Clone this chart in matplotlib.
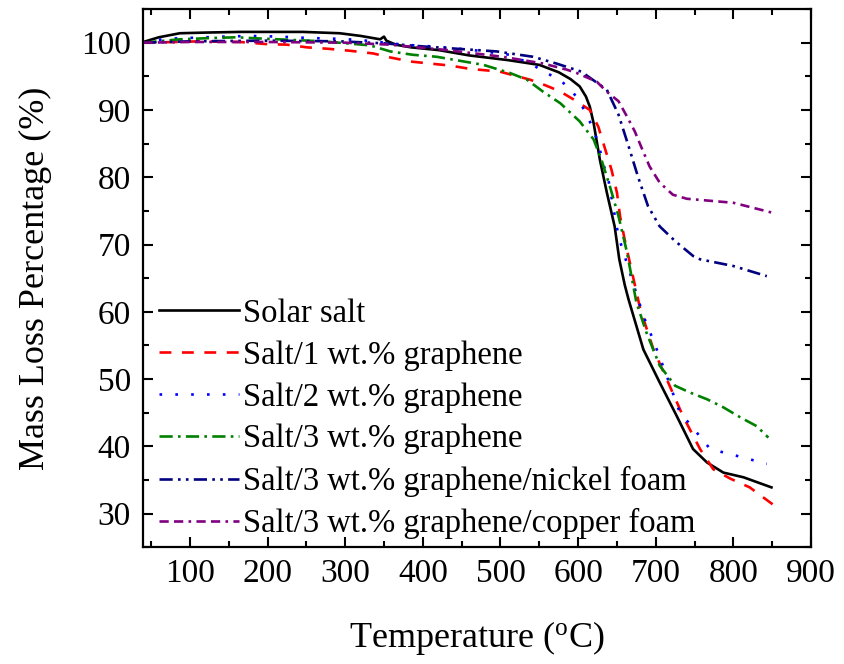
import matplotlib
matplotlib.use("Agg")
import matplotlib.pyplot as plt
from matplotlib.ticker import MultipleLocator

# ---- data ----
solar_x = [40, 60, 87, 120, 165, 246, 293, 320, 345, 350, 353, 365, 385, 420, 460, 510, 550, 575, 590, 602,
           610, 615, 620, 628, 637, 647, 653, 660, 665, 684, 705, 727, 748, 766, 787, 813, 849]
solar_y = [100.1, 100.8, 101.4, 101.5, 101.6, 101.6, 101.4, 101.0, 100.5, 100.9, 100.3, 99.7, 99.3, 98.9, 98.1,
           97.4, 96.7, 95.6, 94.6, 93.5, 92.0, 90.5, 88.0, 82.6, 77.7, 72.7, 67.8, 64.0, 61.8, 54.4, 49.5,
           44.5, 39.6, 37.6, 36.1, 35.4, 33.9]

g1_x = [40, 80, 113, 165, 197, 225, 251, 277, 306, 336, 358, 384, 409, 435, 461, 499, 538, 557, 576, 595,
        615, 626, 635, 643, 650, 654, 660, 680, 697, 714, 735, 757, 774, 796, 821, 855]
g1_y = [100.0, 100.1, 100.2, 100.1, 99.8, 99.7, 99.3, 99.1, 98.8, 98.4, 97.8, 97.2, 96.9, 96.6, 96.1, 95.7,
        94.5, 93.7, 92.8, 91.5, 90.0, 87.5, 84.1, 81.1, 77.7, 74.2, 70.7, 60.4, 54.4, 50.0, 44.5, 39.6,
        36.6, 35.2, 33.9, 31.0]

g2_x = [40, 58, 74, 143, 177, 216, 251, 284, 319, 375, 418, 465, 512, 542, 555, 568, 581, 594, 602, 617,
        626, 632, 639, 645, 652, 684, 697, 714, 731, 744, 770, 804, 843]
g2_y = [100.0, 100.4, 100.6, 100.9, 101.0, 100.9, 100.7, 100.6, 100.4, 99.7, 99.4, 98.9, 98.2, 96.7, 95.7,
        95.0, 94.0, 92.5, 91.3, 87.8, 85.1, 82.1, 79.6, 75.7, 71.2, 59.4, 55.7, 50.5, 45.0, 43.3, 39.6,
        38.6, 37.4]

g3_x = [40, 87, 130, 160, 194, 233, 271, 302, 332, 358, 387, 418, 448, 478, 512, 534, 555, 577, 602, 620,
        630, 641, 652, 663, 675, 688, 705, 725, 744, 766, 787, 809, 830, 845]
g3_y = [100.0, 100.5, 100.7, 100.8, 100.6, 100.4, 100.2, 99.9, 99.6, 98.7, 98.2, 97.9, 97.3, 96.7, 95.5,
        94.5, 92.7, 91.0, 88.3, 85.6, 82.6, 78.6, 74.2, 68.8, 61.4, 56.9, 52.0, 49.0, 48.0, 47.0, 45.8,
        44.3, 43.0, 41.3]

ni_x = [40, 100, 200, 293, 350, 405, 495, 542, 572, 604, 637, 652, 665, 677, 690, 705, 725, 748, 757, 800, 843]
ni_y = [100.0, 100.2, 100.3, 100.2, 99.9, 99.4, 98.7, 97.9, 96.9, 95.7, 93.0, 89.3, 84.6, 80.1, 75.7, 72.7,
        70.5, 68.3, 67.8, 66.8, 65.3]

cu_x = [40, 100, 200, 300, 358, 431, 503, 555, 585, 598, 624, 637, 652, 663, 673, 682, 692, 705, 722, 740,
        800, 851]
cu_y = [100.0, 100.1, 100.1, 100.0, 99.7, 98.9, 97.9, 96.9, 96.0, 95.5, 94.2, 92.7, 91.3, 89.0, 86.8, 84.3,
        81.6, 79.2, 77.4, 76.8, 76.2, 74.7]

labels = ["Solar salt", "Salt/1 wt.% graphene", "Salt/2 wt.% graphene", "Salt/3 wt.% graphene",
          "Salt/3 wt.% graphene/nickel foam", "Salt/3 wt.% graphene/copper foam"]

plt.rcParams['font.family'] = ['Liberation Serif', 'DejaVu Serif']
plt.rcParams['mathtext.fontset'] = 'custom'
plt.rcParams['mathtext.rm'] = 'Liberation Serif'

fig = plt.figure(figsize=(8.44, 6.64), dpi=100)
ax = fig.add_axes([0.1698, 0.1758, 0.7912, 0.8106])

series = [
    (solar_x, solar_y, 'black', '-'),
    (g1_x, g1_y, '#ff0000', (0, (4.5, 4))),
    (g2_x, g2_y, '#0000ff', (0, (1, 5))),
    (g3_x, g3_y, '#008000', (0, (5, 2, 1, 2))),
    (ni_x, ni_y, '#000080', (0, (5, 2, 1, 2, 1, 2))),
    (cu_x, cu_y, '#800080', (0, (3.5, 2, 3.5, 2, 1, 2))),
]
for (x, y, c, ls), lab in zip(series, labels):
    ax.plot(x, y, color=c, linestyle=ls, lw=1.9, label=lab)

ax.set_xlim(40, 900)
ax.set_ylim(25, 105)
ax.xaxis.set_minor_locator(MultipleLocator(50))
ax.yaxis.set_minor_locator(MultipleLocator(5))
ax.set_xticks(range(100, 1000, 100))
ax.set_yticks(range(30, 110, 10))

ax.tick_params(which='both', direction='in', top=True, right=True, width=1.5)
ax.tick_params(which='major', length=7, labelsize=24)
ax.tick_params(axis='x', which='major', pad=8)
ax.tick_params(axis='y', which='major', pad=9)
ax.tick_params(which='minor', length=4)
for s in ax.spines.values():
    s.set_linewidth(1.6)

ax.set_xlabel(r'Temperature ($\mathregular{^o}$C)', fontsize=26, labelpad=22)
ax.set_ylabel('Mass Loss Percentage (%)', fontsize=26, labelpad=21)

leg = ax.legend(loc='lower left', bbox_to_anchor=(0.012, 0.0), frameon=False, fontsize=23.5,
                handlelength=2.45, handletextpad=0.12, labelspacing=0.35, borderaxespad=0.12,
                borderpad=0.12)

fig.savefig('out.png', dpi=100)
